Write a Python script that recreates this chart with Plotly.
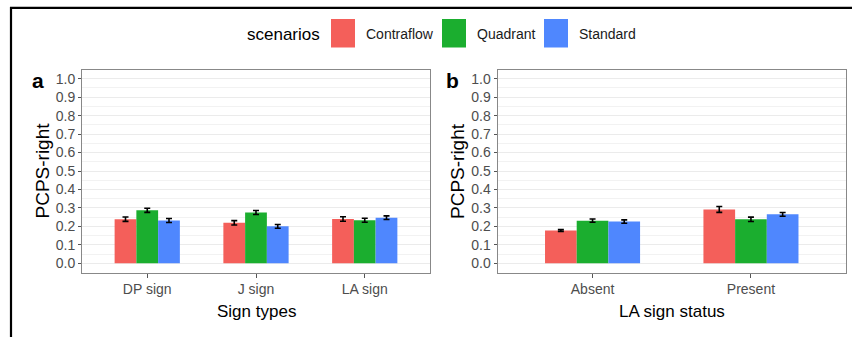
import plotly.graph_objects as go

# ---- data ----
scenarios = ["Contraflow", "Quadrant", "Standard"]
colors = ["#F45F5A", "#1BAE2F", "#4F87FE"]

sign_types = ["DP sign", "J sign", "LA sign"]
sign_mean = {
    "Contraflow": [0.239, 0.219, 0.240],
    "Quadrant":   [0.287, 0.275, 0.233],
    "Standard":   [0.232, 0.200, 0.247],
}
sign_err = {
    "Contraflow": [0.012, 0.012, 0.012],
    "Quadrant":   [0.011, 0.011, 0.011],
    "Standard":   [0.011, 0.010, 0.010],
}

la_status = ["Absent", "Present"]
la_mean = {
    "Contraflow": [0.178, 0.292],
    "Quadrant":   [0.231, 0.238],
    "Standard":   [0.226, 0.265],
}
la_err = {
    "Contraflow": [0.005, 0.016],
    "Quadrant":   [0.009, 0.012],
    "Standard":   [0.009, 0.010],
}

y_ticks = [round(i * 0.1, 1) for i in range(11)]
y_ticklabels = [f"{v:.1f}" for v in y_ticks]

# ---- figure geometry (pixels) ----
W, H = 852, 337
FONT = "Liberation Sans, Arial, sans-serif"
px = lambda x: x / W
py = lambda y: 1 - y / H

fig = go.Figure()

for name, col in zip(scenarios, colors):
    fig.add_trace(go.Bar(
        x=sign_types, y=sign_mean[name], name=name, marker_color=col,
        marker_line_width=0, showlegend=False,
        error_y=dict(type="data", array=sign_err[name], color="black",
                     thickness=1.6, width=3),
        xaxis="x", yaxis="y"))
    fig.add_trace(go.Bar(
        x=la_status, y=la_mean[name], name=name, marker_color=col,
        marker_line_width=0, showlegend=False,
        error_y=dict(type="data", array=la_err[name], color="black",
                     thickness=1.6, width=3),
        xaxis="x2", yaxis="y2"))

ydom = [py(272.5), py(69.5)]
common_x = dict(
    type="category", showgrid=False, showline=True, mirror=True,
    linecolor="#888888", linewidth=1, ticks="outside", ticklen=4,
    tickcolor="#555555", tickfont=dict(family=FONT, size=14, color="#4D4D4D"),
    zeroline=False, fixedrange=True)
common_y = dict(
    range=[-0.05, 1.05], tickvals=y_ticks, ticktext=y_ticklabels,
    showgrid=True, gridcolor="#EBEBEB", gridwidth=1,
    minor=dict(dtick=0.05, tick0=0, showgrid=True, gridcolor="#F2F2F2", gridwidth=0.6),
    showline=True, mirror=True, linecolor="#888888", linewidth=1,
    ticks="outside", ticklen=3, tickcolor="#555555",
    tickfont=dict(family=FONT, size=14, color="#4D4D4D"),
    zeroline=False, fixedrange=True)

fig.update_layout(
    width=W, height=H,
    margin=dict(l=0, r=0, t=0, b=0),
    paper_bgcolor="white", plot_bgcolor="white",
    barmode="group", bargap=0.4, bargroupgap=0,
    showlegend=False,
    xaxis=dict(common_x, domain=[px(82), px(430)], range=[-0.6, 2.6], anchor="y"),
    yaxis=dict(common_y, domain=ydom, anchor="x"),
    xaxis2=dict(common_x, domain=[px(497.5), px(846)], range=[-0.6, 1.6], anchor="y2"),
    yaxis2=dict(common_y, domain=ydom, anchor="x2"),
)

annotations = []
shapes = []

# axis titles and panel letters
for xt, xtitle, ycx, letter_x in [(256, "Sign types", 41.5, 38), (672, "LA sign status", 457, 453)]:
    annotations.append(dict(text=xtitle, x=px(xt), y=py(311), xref="paper", yref="paper",
                            showarrow=False, xanchor="center", yanchor="middle",
                            font=dict(family=FONT, size=17, color="black")))
    annotations.append(dict(text="PCPS-right", x=px(ycx), y=py(171), xref="paper", yref="paper",
                            showarrow=False, textangle=-90, xanchor="center", yanchor="middle",
                            font=dict(family=FONT, size=19, color="black")))
    annotations.append(dict(text="<b>" + ("a" if xt < 400 else "b") + "</b>",
                            x=px(letter_x), y=py(80), xref="paper", yref="paper",
                            showarrow=False, xanchor="center", yanchor="middle",
                            font=dict(family=FONT, size=21, color="black")))

# legend: title, colour keys and labels
annotations.append(dict(text="scenarios", x=px(245), y=py(34), xref="paper", yref="paper",
                        showarrow=False, xanchor="left", yanchor="middle",
                        font=dict(family=FONT, size=17, color="black")))
key_left = [331, 442, 544]
for name, col, kx in zip(scenarios, colors, key_left):
    shapes.append(dict(type="rect", xref="paper", yref="paper",
                       x0=px(kx), x1=px(kx + 24), y0=py(47.5), y1=py(19),
                       fillcolor=col, line=dict(width=0)))
    annotations.append(dict(text=name, x=px(kx + 33), y=py(34), xref="paper", yref="paper",
                            showarrow=False, xanchor="left", yanchor="middle",
                            font=dict(family=FONT, size=14, color="#1A1A1A")))

# outer frame (top and left edges)
shapes.append(dict(type="line", xref="paper", yref="paper",
                   x0=px(10), x1=1, y0=py(7.8), y1=py(7.8),
                   line=dict(color="black", width=2.2)))
shapes.append(dict(type="line", xref="paper", yref="paper",
                   x0=px(11), x1=px(11), y0=py(7), y1=0,
                   line=dict(color="black", width=2.2)))

fig.update_layout(annotations=annotations, shapes=shapes)
fig.write_html("out.html")
